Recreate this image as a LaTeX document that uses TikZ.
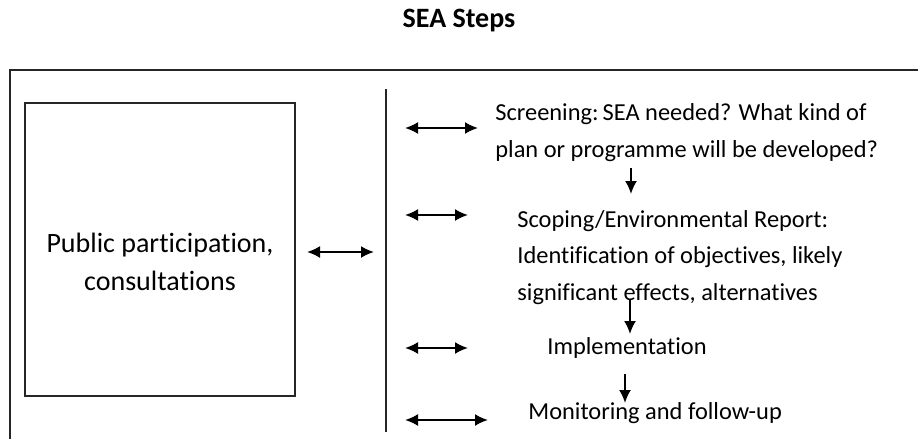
\documentclass[tikz,border=0pt]{standalone}
\usepackage{fontspec}
\setmainfont{Carlito}[Ligatures=NoCommon]
\usetikzlibrary{arrows.meta}

\begin{document}
\begin{tikzpicture}[x=0.5pt,y=-0.5pt,
    >={Latex[length=6.5pt,width=6pt]},
    frame/.style={draw=black!85,line width=1pt},
    link/.style={line width=1pt,<->},
    flow/.style={line width=1pt,->},
    steptext/.style={inner sep=0pt,anchor=base west,align=left,font=\fontsize{12.2}{18.5}\selectfont}]
\useasboundingbox (0,0) rectangle (918,439);

\node[inner sep=0pt,anchor=base,font=\bfseries\fontsize{14}{16}\selectfont] (title) at (459,27) {SEA Steps};

% outer frame and divider
\draw[frame] (10,439)--(10,69.5)--(918,69.5);
\draw[frame] (386,89)--(386,432);

% left box
\node[frame,minimum width=135pt,minimum height=146.5pt,inner sep=0pt] (pubbox) at (160,249.2) {};
\node[inner sep=0pt,anchor=base,align=center,font=\fontsize{14}{19}\selectfont] (pub) at (160,290) {Public participation,\\consultations};

% steps (base = last line)
\node[steptext] (scr) at (495,157) {Screening:\,SEA needed? What kind of\\plan or programme will be developed?};
\node[steptext,font=\fontsize{12.2}{18.25}\selectfont] (scop) at (517,300) {Scoping/Environmental Report:\\Identification of objectives, likely\\significant effects, alternatives};
\node[steptext] (impl) at (547,354) {Implementation};
\node[steptext] (mon) at (528,419) {Monitoring and follow-up};

% arrow ends
\coordinate (l0a) at (307,252); \coordinate (l0b) at (374,252);
\coordinate (r1a) at (405,128); \coordinate (r1b) at (478,128);
\coordinate (r2a) at (405,215); \coordinate (r2b) at (468,215);
\coordinate (r3a) at (405,348); \coordinate (r3b) at (468,348);
\coordinate (r4a) at (405,420); \coordinate (r4b) at (488,420);
\coordinate (d1a) at (631,168); \coordinate (d1b) at (631,194);
\coordinate (d2a) at (630,300); \coordinate (d2b) at (630,334);
\coordinate (d3a) at (625,374); \coordinate (d3b) at (625,403);

\draw[link] (l0a)--(l0b);
\draw[link] (r1a)--(r1b);
\draw[link] (r2a)--(r2b);
\draw[link] (r3a)--(r3b);
\draw[link] (r4a)--(r4b);

\draw[flow] (d1a)--(d1b);
\draw[flow] (d2a)--(d2b);
\draw[flow] (d3a)--(d3b);

\end{tikzpicture}
\end{document}
